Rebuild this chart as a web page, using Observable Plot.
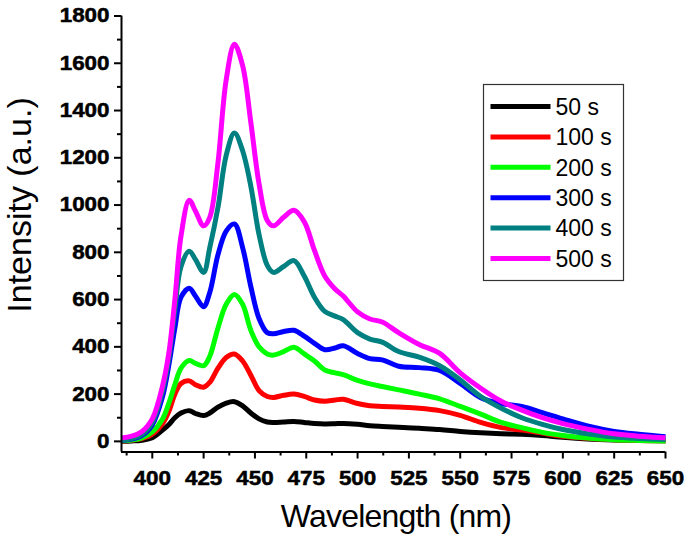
<!DOCTYPE html>
<html>
<head>
<meta charset="utf-8">
<script src="https://cdn.jsdelivr.net/npm/d3@7"></script>
<script src="https://cdn.jsdelivr.net/npm/@observablehq/plot@0.6"></script>
<style>
  html, body { margin: 0; padding: 0; background: #fff; }
  #wrap { position: relative; width: 685px; height: 541px; }
  #overlay { position: absolute; left: 0; top: 0; pointer-events: none; }
</style>
</head>
<body>
<div id="wrap"></div>
<script>
// ---- data ----
const wavelength = [385, 390, 395, 400, 405, 408, 411, 414, 418, 421, 425, 428, 432, 436, 440, 444, 448, 452, 456, 459, 464, 469, 474, 479, 484, 489, 493, 500, 506, 512, 520, 530, 540, 550, 560, 570, 580, 590, 600, 612, 625, 637, 650];

const seriesNames = ["50 s", "100 s", "200 s", "300 s", "400 s", "500 s"];
const seriesColors = ["#000000", "#ff0000", "#00ff00", "#0000ff", "#008080", "#ff00ff"];

const s50  = [1, 2, 5, 15, 48, 70, 100, 120, 130, 118, 109, 120, 145, 162, 168, 150, 120, 95, 82, 80, 82, 84, 80, 76, 74, 75, 76, 72, 66, 63, 60, 55, 50, 42, 36, 32, 30, 25, 17, 10, 6, 4, 3];
const s100 = [2, 5, 12, 30, 75, 125, 200, 245, 256, 240, 229, 250, 310, 355, 370, 340, 280, 215, 190, 186, 195, 200, 190, 175, 170, 175, 178, 160, 151, 148, 145, 140, 130, 110, 80, 58, 48, 35, 22, 13, 7, 4, 3];
const s200 = [3, 6, 15, 40, 95, 160, 240, 310, 342, 330, 320, 360, 480, 580, 622, 580, 470, 400, 370, 365, 380, 398, 370, 340, 302, 290, 282, 258, 243, 232, 218, 200, 180, 148, 115, 80, 58, 38, 25, 14, 7, 4, 2];
const s300 = [5, 10, 25, 70, 190, 320, 480, 610, 648, 615, 570, 630, 790, 890, 920, 820, 655, 520, 460, 455, 465, 470, 445, 415, 388, 395, 405, 372, 350, 345, 318, 312, 300, 245, 185, 160, 148, 122, 95, 65, 42, 30, 20];
const s400 = [5, 12, 30, 80, 215, 350, 560, 740, 805, 770, 715, 820, 990, 1210, 1305, 1230, 1080, 875, 745, 715, 740, 765, 700, 610, 550, 530, 515, 460, 433, 420, 380, 356, 320, 260, 190, 140, 100, 72, 50, 32, 18, 12, 8];
const s500 = [14, 22, 42, 95, 235, 370, 600, 870, 1020, 975, 912, 948, 1180, 1530, 1680, 1590, 1350, 1090, 935, 912, 948, 978, 930, 808, 700, 645, 615, 548, 518, 505, 460, 410, 372, 290, 225, 170, 132, 100, 75, 52, 32, 22, 15];

const seriesValues = [s50, s100, s200, s300, s400, s500];

const xDomain = [385, 650];
const yDomain = [-45, 1800];
const xMajorTicks = [400, 425, 450, 475, 500, 525, 550, 575, 600, 625, 650];
const xMinorTicks = [387.5, 412.5, 437.5, 462.5, 487.5, 512.5, 537.5, 562.5, 587.5, 612.5, 637.5];
const yMajorTicks = [0, 200, 400, 600, 800, 1000, 1200, 1400, 1600, 1800];
const yMinorTicks = [100, 300, 500, 700, 900, 1100, 1300, 1500, 1700];

const xTitle = "Wavelength (nm)";
const yTitle = "Intensity (a.u.)";

// ---- build table ----
const rows = [];
seriesNames.forEach((name, k) => {
  wavelength.forEach((w, i) => rows.push({series: name, wavelength: w, intensity: seriesValues[k][i]}));
});

const chart = Plot.plot({
  width: 685,
  height: 541,
  marginLeft: 121,
  marginRight: 20,
  marginTop: 15.5,
  marginBottom: 89.5,
  style: {fontFamily: "'Liberation Sans', Arial, sans-serif", fontSize: "20px", fontWeight: "bold", color: "#000", background: "#fff"},
  x: {domain: xDomain},
  y: {domain: yDomain},
  color: {domain: seriesNames, range: seriesColors},
  marks: [
    Plot.line(rows, {x: "wavelength", y: "intensity", z: "series", stroke: "series", strokeWidth: 5, curve: "catmull-rom", strokeLinejoin: "round", strokeLinecap: "butt"}),
    Plot.ruleX([xDomain[0]], {stroke: "#000", strokeWidth: 2}),
    Plot.ruleY([yDomain[0]], {stroke: "#000", strokeWidth: 2}),
    Plot.axisX(xMajorTicks, {tickSize: 7, tickPadding: 12, strokeWidth: 2, label: null, tickFormat: d => String(d), fontSize: 20, fontWeight: "bold"}),
    Plot.axisX(xMinorTicks, {tickSize: 4, strokeWidth: 2, label: null, tickFormat: () => ""}),
    Plot.axisY(yMajorTicks, {tickSize: 7, tickPadding: 5, strokeWidth: 2, label: null, tickFormat: d => String(d), fontSize: 20, fontWeight: "bold"}),
    Plot.axisY(yMinorTicks, {tickSize: 4, strokeWidth: 2, label: null, tickFormat: () => ""})
  ]
});

// widen and thicken the bold tick labels like the original rendering
d3.select(chart).selectAll("text").each(function() {
  this.style.fontSize = "20px";
  this.style.fontWeight = "bold";
  this.style.stroke = "#000";
  this.style.strokeWidth = "0.5px";
  this.style.paintOrder = "stroke";
  const t = this.getAttribute("transform");
  if (t) {
    this.setAttribute("transform", t + " scale(1.12,1)");
  } else {
    const x = +this.getAttribute("x") || 0, y = +this.getAttribute("y") || 0;
    this.removeAttribute("x"); this.removeAttribute("y");
    this.setAttribute("transform", `translate(${x},${y}) scale(1.12,1)`);
  }
});

const wrap = document.getElementById("wrap");
wrap.appendChild(chart);

// ---- overlay: axis titles and legend ----
const ov = d3.select(wrap).append("svg")
  .attr("id", "overlay")
  .attr("width", 685).attr("height", 541)
  .style("font-family", "'Liberation Sans', Arial, sans-serif");

ov.append("text")
  .attr("x", 396).attr("y", 527)
  .attr("text-anchor", "middle")
  .attr("font-size", 32)
  .attr("letter-spacing", -0.8)
  .attr("fill", "#000")
  .text(xTitle);

ov.append("text")
  .attr("transform", "translate(31,205) rotate(-90)")
  .attr("text-anchor", "middle")
  .attr("font-size", 34)
  .attr("fill", "#000")
  .text(yTitle);

const lg = ov.append("g").attr("transform", "translate(483.5,84.5)");
lg.append("rect").attr("width", 140).attr("height", 196)
  .attr("fill", "#fff").attr("stroke", "#333").attr("stroke-width", 1.2);
const item = lg.selectAll("g.item").data(seriesNames).join("g")
  .attr("class", "item")
  .attr("transform", (d, i) => `translate(0,${22 + i * 30.4})`);
item.append("line")
  .attr("x1", 7).attr("x2", 67)
  .attr("stroke", (d, i) => seriesColors[i])
  .attr("stroke-width", 5);
item.append("text")
  .attr("x", 72).attr("dy", "0.36em")
  .attr("font-size", 23)
  .attr("fill", "#000")
  .text(d => d);
</script>
</body>
</html>
